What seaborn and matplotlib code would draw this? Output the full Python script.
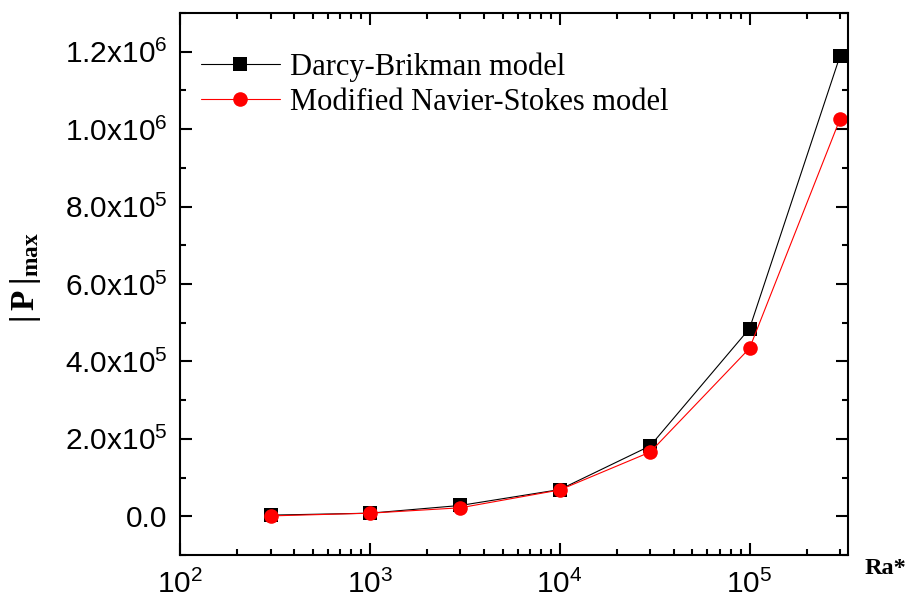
import numpy as np
import pandas as pd
import seaborn as sns
import matplotlib
matplotlib.use("Agg")
import matplotlib.pyplot as plt
from matplotlib.ticker import FixedLocator, LogLocator, FuncFormatter, NullFormatter

# data
ra = [300, 1000, 3000, 10000, 30000, 100000, 300000]
darcy_brikman = [3000, 8000, 28000, 69000, 182000, 485000, 1190000]
modified_ns = [1000, 8000, 22000, 68000, 166000, 434000, 1027000]
series_names = ["Darcy-Brikman model", "Modified Navier-Stokes model"]

sns.set_style("ticks")
plt.rcParams["font.family"] = ["Liberation Sans", "DejaVu Sans"]
plt.rcParams["mathtext.fontset"] = "custom"
plt.rcParams["mathtext.sf"] = "Liberation Sans"
plt.rcParams["mathtext.rm"] = "Liberation Serif"
plt.rcParams["mathtext.bf"] = "Liberation Serif:bold"
plt.rcParams["axes.edgecolor"] = "black"
plt.rcParams["xtick.color"] = "black"
plt.rcParams["ytick.color"] = "black"
plt.rcParams["text.color"] = "black"
plt.rcParams["axes.labelcolor"] = "black"

df = pd.DataFrame({"ra": ra, "db": darcy_brikman, "mns": modified_ns})

fig = plt.figure(figsize=(9.09, 6.0), dpi=100)
ax = fig.add_axes([180 / 909, 1 - 555 / 600, 668 / 909, 542 / 600])

sns.lineplot(data=df, x="ra", y="db", ax=ax, color="black", marker="s",
             markersize=9.5, markeredgewidth=0, linewidth=0.8, label=series_names[0])
sns.lineplot(data=df, x="ra", y="mns", ax=ax, color="red", marker="o",
             markersize=10.5, markeredgewidth=0, linewidth=0.8, label=series_names[1])

ax.set_xscale("log")
ax.set_xlim(100, 3.3e5)
ax.set_ylim(-1e5, 1.3e6)

ax.xaxis.set_major_locator(LogLocator(base=10, numticks=10))
ax.xaxis.set_minor_locator(LogLocator(base=10, subs=np.arange(2, 10), numticks=20))
ax.xaxis.set_major_formatter(FuncFormatter(lambda v, p: r"$\mathsf{10^{%d}}$" % round(np.log10(v))))
ax.xaxis.set_minor_formatter(NullFormatter())

def yfmt(v, p):
    if abs(v) < 1:
        return "0.0"
    e = int(np.floor(np.log10(abs(v))))
    m = v / 10 ** e
    return r"$\mathsf{%.1fx10^{%d}}$" % (m, e)

ax.yaxis.set_major_locator(FixedLocator(np.arange(0, 1.2e6 + 1, 2e5)))
ax.yaxis.set_minor_locator(FixedLocator(np.arange(-1e5, 1.3e6 + 1, 1e5)))
ax.yaxis.set_major_formatter(FuncFormatter(yfmt))

ax.tick_params(which="both", direction="in", top=True, right=True, width=1.5, colors="black")
ax.tick_params(which="major", length=8.5, labelsize=21.5)
ax.tick_params(axis="y", which="major", pad=9)
ax.tick_params(axis="x", which="major", pad=11)
ax.tick_params(which="minor", length=4)
for s in ax.spines.values():
    s.set_linewidth(1.5)
    s.set_color("black")

ax.set_xlabel("")
ax.set_ylabel(r"$\mathbf{|\,P\,|_{max}}$", fontsize=24)
ax.yaxis.set_label_coords(-0.205, 0.512)

ax.text(1.025, -0.024, "Ra*", transform=ax.transAxes, ha="left", va="center",
        fontsize=17.5, fontweight="bold", family="Liberation Serif")

ax.legend(loc="upper left", frameon=False, prop={"family": "Liberation Serif", "size": 22},
          handlelength=2.6, handletextpad=0.33, labelspacing=0.2,
          borderaxespad=0, borderpad=0, bbox_to_anchor=(0.031, 0.928))

fig.savefig("out.png", dpi=100)
